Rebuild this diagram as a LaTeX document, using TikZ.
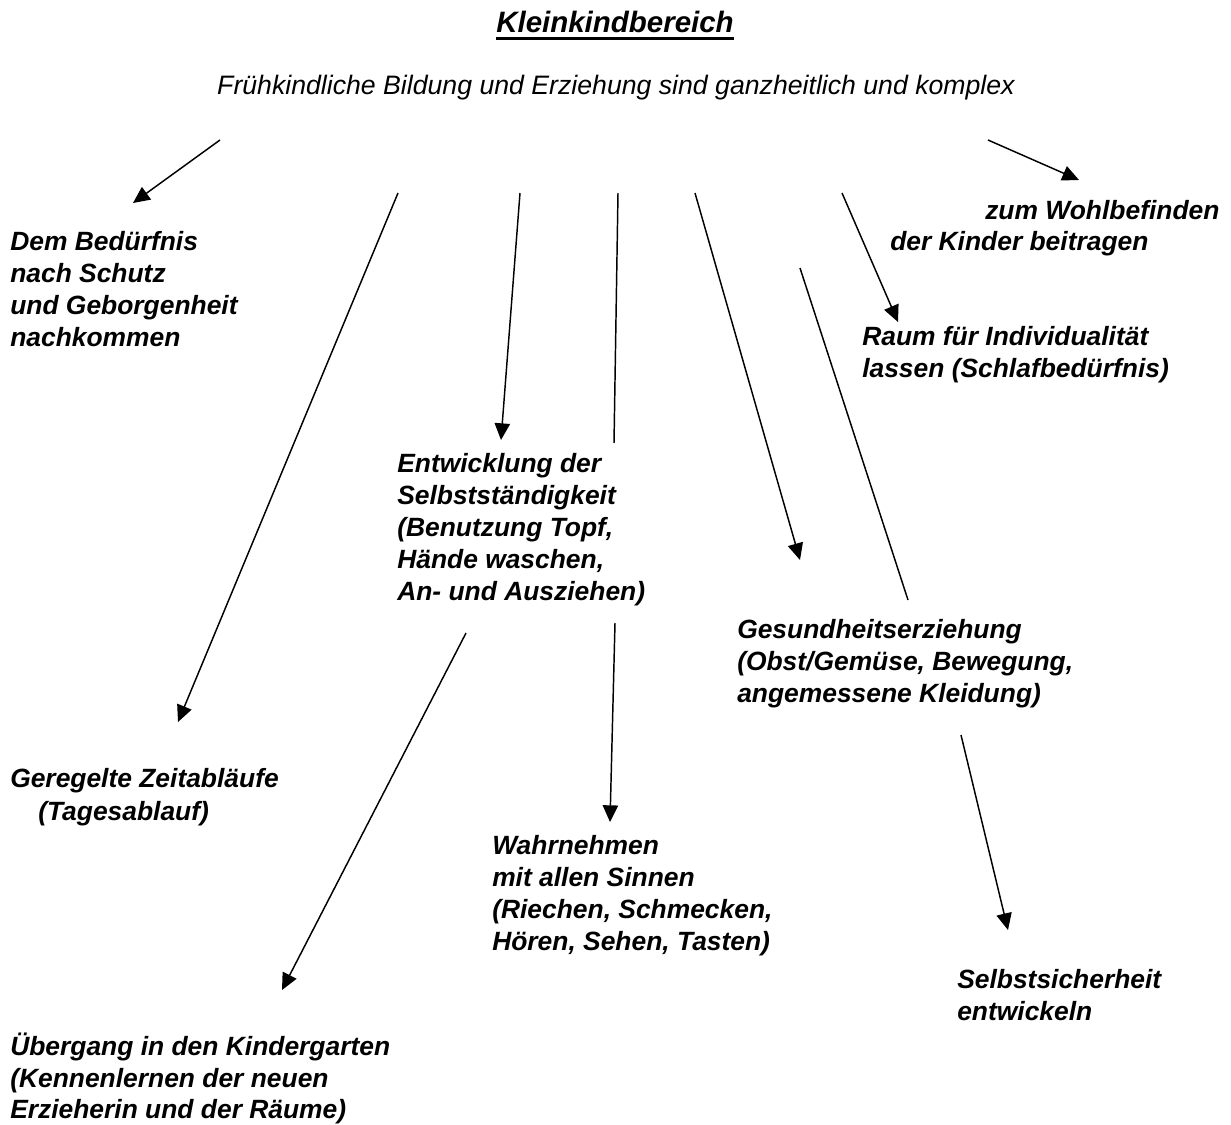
\documentclass[tikz,border=0pt]{standalone}
\usepackage{fontspec}
\setmainfont{Liberation Sans}
\usetikzlibrary{arrows.meta}
\begin{document}
\begin{tikzpicture}[x=0.75pt,y=-0.75pt,
  lbl/.style={anchor=north west,inner sep=0pt,align=left,font=\fontsize{19.8}{24}\selectfont\bfseries\itshape},
  conn/.style={line width=1.1pt},
  arr/.style={conn,-{Triangle[length=12.5pt,width=11.5pt]}}]
\useasboundingbox (0,0) rectangle (1231,1124);
% title
\node[inner sep=0pt,font=\fontsize{22.1}{26}\selectfont\bfseries\itshape] (title) at (615,22) {Kleinkindbereich};
\draw[line width=2.2pt] ([yshift=-4.3pt]title.base west) -- ([yshift=-4.3pt]title.base east);
\node[inner sep=0pt,font=\fontsize{20}{24}\selectfont\itshape] (sub) at (616,88) {Frühkindliche Bildung und Erziehung sind ganzheitlich und komplex};
% labels
\node[lbl] (schutz) at (10,231) {Dem Bedürfnis\\nach Schutz\\und Geborgenheit\\nachkommen};
\node[lbl] (wohl1) at (985,200) {zum Wohlbefinden};
\node[lbl] (wohl2) at (890,231) {der Kinder beitragen};
\node[lbl] (raum) at (862,326) {Raum für Individualität\\lassen (Schlafbedürfnis)};
\node[lbl] (selbst) at (397,453) {Entwicklung der\\Selbstständigkeit\\(Benutzung Topf,\\Hände waschen,\\An- und Ausziehen)};
\node[lbl] (gesund) at (737,619) {Gesundheitserziehung\\(Obst/Gemüse, Bewegung,\\angemessene Kleidung)};
\node[lbl] (zeit1) at (10,768) {Geregelte Zeitabläufe};
\node[lbl] (zeit2) at (38,801) {(Tagesablauf)};
\node[lbl] (wahr) at (492,835) {Wahrnehmen\\mit allen Sinnen\\(Riechen, Schmecken,\\Hören, Sehen, Tasten)};
\node[lbl] (sicher) at (957,969) {Selbstsicherheit\\entwickeln};
\node[lbl,font=\fontsize{19.8}{23.6}\selectfont\bfseries\itshape] (ueber) at (10,1033) {Übergang in den Kindergarten\\(Kennenlernen der neuen\\Erzieherin und der Räume)};
% connector end points
\coordinate (a1) at (220,140); \coordinate (b1) at (133,203);
\coordinate (a2) at (398,193); \coordinate (b2) at (178,722);
\coordinate (a3) at (520,193); \coordinate (b3) at (501,440);
\coordinate (a4) at (618,193); \coordinate (b4) at (614,443);
\coordinate (a5) at (695,193); \coordinate (b5) at (800,560);
\coordinate (a6) at (842,193); \coordinate (b6) at (898,322);
\coordinate (a7) at (800,268); \coordinate (b7) at (908,600);
\coordinate (a8) at (988,140); \coordinate (b8) at (1079,180);
\coordinate (a9) at (466,633); \coordinate (b9) at (282,990);
\coordinate (a10) at (615,623); \coordinate (b10) at (610,822);
\coordinate (a11) at (961,735); \coordinate (b11) at (1008,930);
\draw[arr] (a1) -- (b1);
\draw[arr] (a2) -- (b2);
\draw[arr] (a3) -- (b3);
\draw[conn] (a4) -- (b4);
\draw[arr] (a5) -- (b5);
\draw[arr] (a6) -- (b6);
\draw[conn] (a7) -- (b7);
\draw[arr] (a8) -- (b8);
\draw[arr] (a9) -- (b9);
\draw[arr] (a10) -- (b10);
\draw[arr] (a11) -- (b11);
\end{tikzpicture}
\end{document}
